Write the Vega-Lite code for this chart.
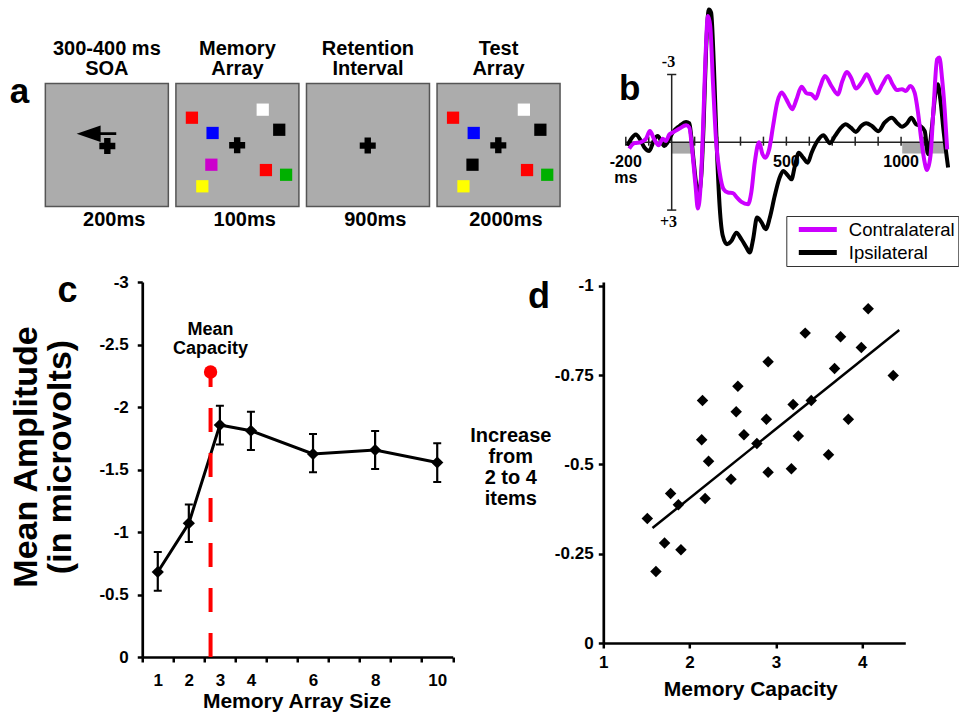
{
  "$schema": "https://vega.github.io/schema/vega-lite/v6.json",
  "background": "white",
  "padding": {"left": 9, "top": 7, "right": 0, "bottom": 0},
  "autosize": {"type": "pad"},
  "columns": 2,
  "align": "each",
  "bounds": "flush",
  "center": {"column": true, "row": false},
  "spacing": {"row": 75, "column": 43.3},
  "resolve": {"scale": {"color": "independent"}, "legend": {"color": "independent"}},
  "config": {
    "view": {"stroke": null},
    "font": "Liberation Sans",
    "axis": {"labelFlush": false, "labelOverlap": false, "grid": false, "domainColor": "#000", "tickColor": "#000", "labelColor": "#000", "titleColor": "#000", "labelFont": "Liberation Sans", "titleFont": "Liberation Sans", "labelFontWeight": "bold", "titleFontWeight": "bold"},
    "title": {"font": "Liberation Sans", "fontWeight": "bold", "color": "#000"},
    "text": {"font": "Liberation Sans", "color": "#000"}
  },
  "datasets": {
    "frames": [
      {"frame": 1, "title": "300-400 ms\nSOA", "duration": "200ms"},
      {"frame": 2, "title": "Memory\nArray", "duration": "100ms"},
      {"frame": 3, "title": "Retention\nInterval", "duration": "900ms"},
      {"frame": 4, "title": "Test\nArray", "duration": "2000ms"}
    ],
    "items": [
      {"frame": 1, "kind": "arrow", "sx": 4.15, "sy": 4.09, "color": "black"},
      {"frame": 1, "kind": "cross", "sx": 5.04, "sy": 5.08, "color": "black"},
      {"frame": 2, "kind": "square", "sx": 1.28, "sy": 2.8, "color": "red"},
      {"frame": 2, "kind": "square", "sx": 7.07, "sy": 2.15, "color": "white"},
      {"frame": 2, "kind": "square", "sx": 2.97, "sy": 4.03, "color": "blue"},
      {"frame": 2, "kind": "square", "sx": 8.42, "sy": 3.77, "color": "black"},
      {"frame": 2, "kind": "square", "sx": 2.87, "sy": 6.59, "color": "magenta"},
      {"frame": 2, "kind": "square", "sx": 7.33, "sy": 7.02, "color": "red"},
      {"frame": 2, "kind": "square", "sx": 8.98, "sy": 7.4, "color": "green"},
      {"frame": 2, "kind": "square", "sx": 2.13, "sy": 8.33, "color": "yellow"},
      {"frame": 2, "kind": "cross", "sx": 4.98, "sy": 5.02, "color": "black"},
      {"frame": 3, "kind": "cross", "sx": 4.98, "sy": 5.05, "color": "black"},
      {"frame": 4, "kind": "square", "sx": 1.28, "sy": 2.8, "color": "red"},
      {"frame": 4, "kind": "square", "sx": 7.07, "sy": 2.15, "color": "white"},
      {"frame": 4, "kind": "square", "sx": 2.97, "sy": 4.03, "color": "blue"},
      {"frame": 4, "kind": "square", "sx": 8.42, "sy": 3.77, "color": "black"},
      {"frame": 4, "kind": "square", "sx": 2.87, "sy": 6.59, "color": "black"},
      {"frame": 4, "kind": "square", "sx": 7.33, "sy": 7.02, "color": "red"},
      {"frame": 4, "kind": "square", "sx": 8.98, "sy": 7.4, "color": "green"},
      {"frame": 4, "kind": "square", "sx": 2.13, "sy": 8.33, "color": "yellow"},
      {"frame": 4, "kind": "cross", "sx": 4.98, "sy": 5.03, "color": "black"}
    ],
    "shade": [{"from": 0, "to": 85}, {"from": 1005, "to": 1190}],
    "ticksB": [{"t": -200}, {"t": -100}, {"t": 100}, {"t": 200}, {"t": 300}, {"t": 400}, {"t": 500}, {"t": 600}, {"t": 700}, {"t": 800}, {"t": 900}, {"t": 1000}, {"t": 1100}],
    "bLabels": [{"t": -200, "label": "-200\nms"}, {"t": 500, "label": "500"}, {"t": 1000, "label": "1000"}],
    "erp": [
      {"side": "Ipsilateral", "t": -193, "uv": 0.16}, {"side": "Ipsilateral", "t": -178, "uv": -0.13}, {"side": "Ipsilateral", "t": -156, "uv": -0.35}, {"side": "Ipsilateral", "t": -138, "uv": -0.13}, {"side": "Ipsilateral", "t": -119, "uv": 0.23}, {"side": "Ipsilateral", "t": -98, "uv": 0.38}, {"side": "Ipsilateral", "t": -76, "uv": -0.13}, {"side": "Ipsilateral", "t": -61, "uv": -0.28}, {"side": "Ipsilateral", "t": -46, "uv": -0.06}, {"side": "Ipsilateral", "t": -32, "uv": 0.16}, {"side": "Ipsilateral", "t": -18, "uv": 0.0}, {"side": "Ipsilateral", "t": 4, "uv": -0.43}, {"side": "Ipsilateral", "t": 34, "uv": -0.72}, {"side": "Ipsilateral", "t": 63, "uv": -0.9}, {"side": "Ipsilateral", "t": 77, "uv": -0.84}, {"side": "Ipsilateral", "t": 85, "uv": -0.28}, {"side": "Ipsilateral", "t": 95, "uv": 0.75}, {"side": "Ipsilateral", "t": 107, "uv": 1.86}, {"side": "Ipsilateral", "t": 117, "uv": 2.3}, {"side": "Ipsilateral", "t": 129, "uv": 1.49}, {"side": "Ipsilateral", "t": 139, "uv": -0.72}, {"side": "Ipsilateral", "t": 150, "uv": -4.12}, {"side": "Ipsilateral", "t": 162, "uv": -5.88}, {"side": "Ipsilateral", "t": 172, "uv": -5.74}, {"side": "Ipsilateral", "t": 184, "uv": -3.38}, {"side": "Ipsilateral", "t": 197, "uv": 0.31}, {"side": "Ipsilateral", "t": 209, "uv": 2.82}, {"side": "Ipsilateral", "t": 223, "uv": 4.15}, {"side": "Ipsilateral", "t": 241, "uv": 4.51}, {"side": "Ipsilateral", "t": 260, "uv": 4.37}, {"side": "Ipsilateral", "t": 282, "uv": 4.0}, {"side": "Ipsilateral", "t": 304, "uv": 4.29}, {"side": "Ipsilateral", "t": 326, "uv": 4.66}, {"side": "Ipsilateral", "t": 340, "uv": 4.88}, {"side": "Ipsilateral", "t": 355, "uv": 4.29}, {"side": "Ipsilateral", "t": 372, "uv": 3.33}, {"side": "Ipsilateral", "t": 391, "uv": 3.53}, {"side": "Ipsilateral", "t": 410, "uv": 3.85}, {"side": "Ipsilateral", "t": 428, "uv": 3.33}, {"side": "Ipsilateral", "t": 449, "uv": 2.38}, {"side": "Ipsilateral", "t": 468, "uv": 1.64}, {"side": "Ipsilateral", "t": 486, "uv": 1.27}, {"side": "Ipsilateral", "t": 508, "uv": 1.49}, {"side": "Ipsilateral", "t": 522, "uv": 1.64}, {"side": "Ipsilateral", "t": 537, "uv": 1.05}, {"side": "Ipsilateral", "t": 554, "uv": 0.46}, {"side": "Ipsilateral", "t": 573, "uv": 0.68}, {"side": "Ipsilateral", "t": 593, "uv": 0.9}, {"side": "Ipsilateral", "t": 610, "uv": 0.46}, {"side": "Ipsilateral", "t": 632, "uv": 0.0}, {"side": "Ipsilateral", "t": 661, "uv": -0.31}, {"side": "Ipsilateral", "t": 690, "uv": 0.04}, {"side": "Ipsilateral", "t": 712, "uv": -0.28}, {"side": "Ipsilateral", "t": 738, "uv": -0.65}, {"side": "Ipsilateral", "t": 759, "uv": -0.8}, {"side": "Ipsilateral", "t": 781, "uv": -0.65}, {"side": "Ipsilateral", "t": 803, "uv": -0.46}, {"side": "Ipsilateral", "t": 826, "uv": -0.72}, {"side": "Ipsilateral", "t": 848, "uv": -0.84}, {"side": "Ipsilateral", "t": 873, "uv": -0.72}, {"side": "Ipsilateral", "t": 901, "uv": -0.49}, {"side": "Ipsilateral", "t": 928, "uv": -0.87}, {"side": "Ipsilateral", "t": 960, "uv": -1.09}, {"side": "Ipsilateral", "t": 982, "uv": -0.87}, {"side": "Ipsilateral", "t": 1004, "uv": -0.69}, {"side": "Ipsilateral", "t": 1026, "uv": -0.84}, {"side": "Ipsilateral", "t": 1045, "uv": -1.09}, {"side": "Ipsilateral", "t": 1065, "uv": -0.8}, {"side": "Ipsilateral", "t": 1084, "uv": -0.72}, {"side": "Ipsilateral", "t": 1103, "uv": -0.5}, {"side": "Ipsilateral", "t": 1118, "uv": 0.53}, {"side": "Ipsilateral", "t": 1135, "uv": -0.72}, {"side": "Ipsilateral", "t": 1150, "uv": -2.2}, {"side": "Ipsilateral", "t": 1160, "uv": -2.57}, {"side": "Ipsilateral", "t": 1171, "uv": -1.9}, {"side": "Ipsilateral", "t": 1186, "uv": -0.43}, {"side": "Ipsilateral", "t": 1205, "uv": 1.12},
      {"side": "Contralateral", "t": -185, "uv": 0.28}, {"side": "Contralateral", "t": -163, "uv": 0.04}, {"side": "Contralateral", "t": -134, "uv": -0.01}, {"side": "Contralateral", "t": -112, "uv": -0.16}, {"side": "Contralateral", "t": -95, "uv": -0.5}, {"side": "Contralateral", "t": -76, "uv": -0.13}, {"side": "Contralateral", "t": -57, "uv": 0.13}, {"side": "Contralateral", "t": -39, "uv": -0.16}, {"side": "Contralateral", "t": -25, "uv": -0.06}, {"side": "Contralateral", "t": -10, "uv": -0.35}, {"side": "Contralateral", "t": 4, "uv": -0.43}, {"side": "Contralateral", "t": 34, "uv": -0.61}, {"side": "Contralateral", "t": 63, "uv": -0.75}, {"side": "Contralateral", "t": 77, "uv": -0.65}, {"side": "Contralateral", "t": 89, "uv": 0.31}, {"side": "Contralateral", "t": 104, "uv": 1.93}, {"side": "Contralateral", "t": 114, "uv": 2.93}, {"side": "Contralateral", "t": 126, "uv": 1.93}, {"side": "Contralateral", "t": 136, "uv": -0.43}, {"side": "Contralateral", "t": 147, "uv": -3.67}, {"side": "Contralateral", "t": 158, "uv": -5.59}, {"side": "Contralateral", "t": 168, "uv": -5.15}, {"side": "Contralateral", "t": 180, "uv": -2.64}, {"side": "Contralateral", "t": 194, "uv": 0.0}, {"side": "Contralateral", "t": 209, "uv": 1.33}, {"side": "Contralateral", "t": 226, "uv": 2.07}, {"side": "Contralateral", "t": 245, "uv": 2.22}, {"side": "Contralateral", "t": 267, "uv": 2.25}, {"side": "Contralateral", "t": 285, "uv": 2.45}, {"side": "Contralateral", "t": 304, "uv": 2.64}, {"side": "Contralateral", "t": 333, "uv": 2.74}, {"side": "Contralateral", "t": 347, "uv": 2.22}, {"side": "Contralateral", "t": 362, "uv": 0.9}, {"side": "Contralateral", "t": 381, "uv": 0.0}, {"side": "Contralateral", "t": 396, "uv": 0.53}, {"side": "Contralateral", "t": 409, "uv": 0.68}, {"side": "Contralateral", "t": 425, "uv": 0.31}, {"side": "Contralateral", "t": 442, "uv": -0.72}, {"side": "Contralateral", "t": 460, "uv": -1.76}, {"side": "Contralateral", "t": 479, "uv": -2.2}, {"side": "Contralateral", "t": 500, "uv": -1.9}, {"side": "Contralateral", "t": 515, "uv": -1.61}, {"side": "Contralateral", "t": 525, "uv": -1.46}, {"side": "Contralateral", "t": 544, "uv": -1.9}, {"side": "Contralateral", "t": 566, "uv": -2.46}, {"side": "Contralateral", "t": 588, "uv": -2.17}, {"side": "Contralateral", "t": 610, "uv": -2.12}, {"side": "Contralateral", "t": 628, "uv": -1.93}, {"side": "Contralateral", "t": 646, "uv": -2.42}, {"side": "Contralateral", "t": 668, "uv": -2.93}, {"side": "Contralateral", "t": 698, "uv": -2.46}, {"side": "Contralateral", "t": 724, "uv": -2.12}, {"side": "Contralateral", "t": 744, "uv": -2.71}, {"side": "Contralateral", "t": 763, "uv": -3.11}, {"side": "Contralateral", "t": 782, "uv": -2.86}, {"side": "Contralateral", "t": 803, "uv": -2.38}, {"side": "Contralateral", "t": 829, "uv": -2.67}, {"side": "Contralateral", "t": 851, "uv": -3.01}, {"side": "Contralateral", "t": 873, "uv": -2.57}, {"side": "Contralateral", "t": 895, "uv": -2.17}, {"side": "Contralateral", "t": 919, "uv": -2.57}, {"side": "Contralateral", "t": 943, "uv": -2.93}, {"side": "Contralateral", "t": 963, "uv": -2.57}, {"side": "Contralateral", "t": 982, "uv": -2.31}, {"side": "Contralateral", "t": 1004, "uv": -2.35}, {"side": "Contralateral", "t": 1021, "uv": -2.27}, {"side": "Contralateral", "t": 1040, "uv": -2.49}, {"side": "Contralateral", "t": 1059, "uv": -2.2}, {"side": "Contralateral", "t": 1074, "uv": -1.31}, {"side": "Contralateral", "t": 1088, "uv": -0.13}, {"side": "Contralateral", "t": 1103, "uv": 0.9}, {"side": "Contralateral", "t": 1113, "uv": 1.23}, {"side": "Contralateral", "t": 1128, "uv": 0.61}, {"side": "Contralateral", "t": 1142, "uv": -1.61}, {"side": "Contralateral", "t": 1157, "uv": -3.67}, {"side": "Contralateral", "t": 1167, "uv": -3.75}, {"side": "Contralateral", "t": 1179, "uv": -2.79}, {"side": "Contralateral", "t": 1190, "uv": -1.46}, {"side": "Contralateral", "t": 1201, "uv": 0.31}
    ],
    "amp": [
      {"size": 1, "amp": -0.68, "lo": -0.53, "hi": -0.84},
      {"size": 2, "amp": -1.07, "lo": -0.92, "hi": -1.22},
      {"size": 3, "amp": -1.856, "lo": -1.70, "hi": -2.01},
      {"size": 4, "amp": -1.81, "lo": -1.656, "hi": -1.962},
      {"size": 6, "amp": -1.624, "lo": -1.478, "hi": -1.784},
      {"size": 8, "amp": -1.656, "lo": -1.504, "hi": -1.808},
      {"size": 10, "amp": -1.556, "lo": -1.40, "hi": -1.71}
    ],
    "scatter": [
      {"cap": 1.51, "inc": -0.349}, {"cap": 1.78, "inc": -0.419}, {"cap": 1.87, "inc": -0.387}, {"cap": 2.18, "inc": -0.405}, {"cap": 2.15, "inc": -0.679}, {"cap": 2.14, "inc": -0.569}, {"cap": 2.22, "inc": -0.509}, {"cap": 2.56, "inc": -0.719}, {"cap": 2.54, "inc": -0.648}, {"cap": 2.63, "inc": -0.583}, {"cap": 2.48, "inc": -0.459}, {"cap": 2.78, "inc": -0.559}, {"cap": 2.91, "inc": -0.788}, {"cap": 2.89, "inc": -0.627}, {"cap": 2.91, "inc": -0.478}, {"cap": 3.18, "inc": -0.488}, {"cap": 3.2, "inc": -0.668}, {"cap": 3.26, "inc": -0.58}, {"cap": 3.34, "inc": -0.868}, {"cap": 3.41, "inc": -0.679}, {"cap": 3.61, "inc": -0.527}, {"cap": 3.68, "inc": -0.769}, {"cap": 3.75, "inc": -0.858}, {"cap": 3.84, "inc": -0.627}, {"cap": 3.99, "inc": -0.828}, {"cap": 4.07, "inc": -0.936}, {"cap": 4.36, "inc": -0.749}, {"cap": 1.71, "inc": -0.28}, {"cap": 1.9, "inc": -0.261}, {"cap": 1.61, "inc": -0.2}
    ],
    "fit": [{"cap": 1.57, "inc": -0.322}, {"cap": 4.43, "inc": -0.877}]
  },
  "concat": [
    {
      "width": 524.4,
      "height": 124,
      "layer": [
        {
          "data": {"name": "frames"},
          "mark": {"type": "point", "shape": "square", "filled": true, "fill": "#acacac", "stroke": "#555555", "strokeWidth": 1.5, "size": 15129, "opacity": 1},
          "encoding": {
            "x": {"field": "frame", "type": "ordinal", "scale": {"type": "band", "paddingInner": 0.0633, "paddingOuter": 0.0398, "align": 1}, "axis": null},
            "xOffset": {"datum": 5, "type": "quantitative", "scale": {"domain": [0, 10], "nice": false, "zero": false}},
            "y": {"datum": 5, "type": "quantitative", "scale": {"domain": [0, 10], "reverse": true, "nice": false, "zero": false},
                  "axis": {"title": "a", "domain": false, "ticks": false, "labels": false, "titleAngle": 0, "titleFontSize": 35, "titleAlign": "center", "titleBaseline": "alphabetic", "titleX": -16.3, "titleY": 19}}
          }
        },
        {
          "data": {"name": "items"},
          "transform": [{"filter": "datum.kind == 'square'"}],
          "mark": {"type": "point", "shape": "square", "filled": true, "size": 150, "opacity": 1, "strokeWidth": 0},
          "encoding": {
            "x": {"field": "frame", "type": "ordinal", "axis": null},
            "xOffset": {"field": "sx", "type": "quantitative"},
            "y": {"field": "sy", "type": "quantitative"},
            "color": {"field": "color", "type": "nominal", "legend": null,
                      "scale": {"domain": ["red", "white", "blue", "black", "magenta", "green", "yellow"], "range": ["#ff0000", "#ffffff", "#0000ff", "#000000", "#cc00cc", "#00b000", "#ffff00"]}}
          }
        },
        {
          "data": {"name": "items"},
          "transform": [{"filter": "datum.kind == 'cross'"}],
          "mark": {"type": "point", "shape": "cross", "filled": true, "size": 256, "color": "#000", "opacity": 1, "strokeWidth": 0},
          "encoding": {
            "x": {"field": "frame", "type": "ordinal", "axis": null},
            "xOffset": {"field": "sx", "type": "quantitative"},
            "y": {"field": "sy", "type": "quantitative"}
          }
        },
        {
          "data": {"name": "items"},
          "transform": [{"filter": "datum.kind == 'arrow'"}],
          "mark": {"type": "point", "shape": "M-1,0L0.21,-0.42L0.21,-0.07L1,-0.07L1,0.07L0.21,0.07L0.21,0.42Z", "filled": true, "size": 1568, "color": "#000", "opacity": 1, "strokeWidth": 0},
          "encoding": {
            "x": {"field": "frame", "type": "ordinal", "axis": null},
            "xOffset": {"field": "sx", "type": "quantitative"},
            "y": {"field": "sy", "type": "quantitative"}
          }
        },
        {
          "data": {"name": "frames"},
          "mark": {"type": "text", "lineBreak": "\n", "fontSize": 20, "fontWeight": "bold", "baseline": "top", "align": "center", "lineHeight": 20},
          "encoding": {
            "x": {"field": "frame", "type": "ordinal", "axis": null},
            "y": {"datum": -3.56, "type": "quantitative"},
            "text": {"field": "title"}
          }
        },
        {
          "data": {"name": "frames"},
          "mark": {"type": "text", "fontSize": 20, "fontWeight": "bold", "baseline": "alphabetic", "align": "center"},
          "encoding": {
            "x": {"field": "frame", "type": "ordinal", "axis": null},
            "xOffset": {"datum": 5.6, "type": "quantitative"},
            "y": {"datum": 11.51, "type": "quantitative"},
            "text": {"field": "duration"}
          }
        }
      ]
    },
    {
      "width": 302,
      "height": 124,
      "layer": [
        {
          "data": {"name": "shade"},
          "mark": {"type": "rect", "fill": "#a8a8a8"},
          "encoding": {
            "x": {"field": "from", "type": "quantitative", "scale": {"domain": [-298.1, 1018.4], "nice": false, "zero": false}, "axis": null},
            "x2": {"field": "to"},
            "y": {"datum": 0, "type": "quantitative", "scale": {"domain": [-2.624, 2.863], "reverse": true, "nice": false, "zero": false},
                  "axis": {"title": "b", "domain": false, "ticks": false, "labels": false, "titleAngle": 0, "titleFontSize": 35, "titleAlign": "center", "titleBaseline": "alphabetic", "titleX": 26, "titleY": 16}},
            "y2": {"datum": 0.5}
          }
        },
        {
          "data": {"values": [{}]},
          "mark": {"type": "rule", "color": "#222", "strokeWidth": 1.5},
          "encoding": {
            "x": {"datum": -200, "type": "quantitative", "axis": null},
            "x2": {"datum": 1195},
            "y": {"datum": 0, "type": "quantitative"}
          }
        },
        {
          "data": {"name": "ticksB"},
          "mark": {"type": "rule", "color": "#222", "strokeWidth": 1.5},
          "encoding": {
            "x": {"field": "t", "type": "quantitative", "axis": null},
            "y": {"datum": -0.25, "type": "quantitative"},
            "y2": {"datum": 0.15}
          }
        },
        {
          "data": {"values": [{}]},
          "mark": {"type": "rule", "color": "#222", "strokeWidth": 1.5},
          "encoding": {
            "x": {"datum": 0, "type": "quantitative", "axis": null},
            "y": {"datum": -3, "type": "quantitative"},
            "y2": {"datum": 3}
          }
        },
        {
          "data": {"values": [{"v": -3}, {"v": 3}]},
          "mark": {"type": "rule", "color": "#222", "strokeWidth": 1.5},
          "encoding": {
            "x": {"datum": -20, "type": "quantitative", "axis": null},
            "x2": {"datum": 20},
            "y": {"field": "v", "type": "quantitative"}
          }
        },
        {
          "data": {"values": [{"label": "-3"}]},
          "mark": {"type": "text", "font": "Liberation Serif", "fontSize": 16, "fontWeight": "bold", "align": "center", "baseline": "alphabetic"},
          "encoding": {
            "x": {"datum": -14, "type": "quantitative", "axis": null},
            "y": {"datum": -3.32, "type": "quantitative"},
            "text": {"field": "label"}
          }
        },
        {
          "data": {"values": [{"label": "+3"}]},
          "mark": {"type": "text", "font": "Liberation Serif", "fontSize": 16, "fontWeight": "bold", "align": "center", "baseline": "alphabetic"},
          "encoding": {
            "x": {"datum": -14, "type": "quantitative", "axis": null},
            "y": {"datum": 3.76, "type": "quantitative"},
            "text": {"field": "label"}
          }
        },
        {
          "data": {"name": "bLabels"},
          "mark": {"type": "text", "lineBreak": "\n", "fontSize": 16, "fontWeight": "bold", "align": "center", "baseline": "top", "lineHeight": 16.7},
          "encoding": {
            "x": {"field": "t", "type": "quantitative", "axis": null},
            "y": {"datum": 0.5, "type": "quantitative"},
            "text": {"field": "label"}
          }
        },
        {
          "data": {"name": "erp"},
          "transform": [{"filter": "datum.side == 'Ipsilateral'"}],
          "mark": {"type": "line", "strokeWidth": 4, "interpolate": "monotone", "strokeJoin": "round"},
          "encoding": {
            "x": {"field": "t", "type": "quantitative", "axis": null},
            "y": {"field": "uv", "type": "quantitative"},
            "color": {"field": "side", "type": "nominal",
                      "scale": {"domain": ["Contralateral", "Ipsilateral"], "range": ["#cc00ff", "#000000"]},
                      "legend": {"orient": "none", "legendX": 183, "legendY": 133, "title": null, "direction": "vertical", "symbolType": "stroke", "symbolStrokeWidth": 5, "symbolSize": 1444, "clipHeight": 20, "labelFontSize": 18.5, "labelFont": "Liberation Sans", "labelFontWeight": "normal", "labelColor": "#000", "strokeColor": "#333", "padding": 3.5, "rowPadding": 3, "symbolOffset": 6.5, "labelOffset": 9.5, "fillColor": "#ffffff", "symbolOpacity": 1}}
          }
        },
        {
          "data": {"name": "erp"},
          "transform": [{"filter": "datum.side == 'Contralateral'"}],
          "mark": {"type": "line", "strokeWidth": 4, "interpolate": "monotone", "strokeJoin": "round"},
          "encoding": {
            "x": {"field": "t", "type": "quantitative", "axis": null},
            "y": {"field": "uv", "type": "quantitative"},
            "color": {"field": "side", "type": "nominal"}
          }
        }
      ]
    },
    {
      "width": 310.5,
      "height": 375,
      "title": {"text": "c", "anchor": "start", "frame": "group", "orient": "top", "fontSize": 36, "baseline": "alphabetic", "offset": 0, "dx": -84.7, "dy": 64.5},
      "data": {"name": "amp"},
      "resolve": {"axis": {"x": "independent"}},
      "layer": [
        {
          "mark": {"type": "line", "color": "#000", "strokeWidth": 3},
          "encoding": {
            "x": {"field": "size", "type": "quantitative", "scale": {"domain": [0.5, 10.5], "nice": false, "zero": false},
                  "axis": {"orient": "bottom", "title": "Memory Array Size", "values": [0.5, 1.5, 2.5, 3.5, 4.5, 5.5, 6.5, 7.5, 8.5, 9.5, 10.5],
                           "labels": false, "domainWidth": 2.7, "tickWidth": 2.5, "tickSize": 5,
                           "titleFontSize": 21, "titleAlign": "center", "titleBaseline": "alphabetic", "titleX": 154.3, "titleY": 50.5}},
            "y": {"field": "amp", "type": "quantitative", "scale": {"domain": [-3, 0], "reverse": true, "nice": false, "zero": false},
                  "axis": {"title": ["Mean Amplitude", "(in microvolts)"], "values": [-3, -2.5, -2, -1.5, -1, -0.5, 0],
                           "labelExpr": "datum.value == 0 ? '0' : '-' + (-datum.value)",
                           "domainWidth": 2.7, "tickWidth": 2.5, "tickSize": 5, "labelFontSize": 17, "labelPadding": 9,
                           "titleFontSize": 34, "titleLineHeight": 34, "titleAngle": -90, "titleAlign": "center", "titleBaseline": "top", "titleX": -132.6, "titleY": 174.5}}
          }
        },
        {
          "mark": {"type": "rule", "color": "#000", "strokeWidth": 2.2},
          "encoding": {
            "x": {"field": "size", "type": "quantitative", "axis": null},
            "y": {"field": "lo", "type": "quantitative"},
            "y2": {"field": "hi"}
          }
        },
        {
          "mark": {"type": "tick", "orient": "horizontal", "color": "#000", "size": 8, "thickness": 2, "opacity": 1},
          "encoding": {
            "x": {"field": "size", "type": "quantitative", "axis": null},
            "y": {"field": "lo", "type": "quantitative"}
          }
        },
        {
          "mark": {"type": "tick", "orient": "horizontal", "color": "#000", "size": 8, "thickness": 2, "opacity": 1},
          "encoding": {
            "x": {"field": "size", "type": "quantitative", "axis": null},
            "y": {"field": "hi", "type": "quantitative"}
          }
        },
        {
          "mark": {"type": "point", "shape": "diamond", "filled": true, "size": 150, "color": "#000", "opacity": 1},
          "encoding": {
            "x": {"field": "size", "type": "quantitative",
                  "axis": {"orient": "bottom", "title": null, "values": [1, 2, 3, 4, 6, 8, 10], "domain": false, "ticks": false, "tickSize": 0,
                           "labelExpr": "'' + datum.value", "labelFontSize": 17, "labelPadding": 15.7}},
            "y": {"field": "amp", "type": "quantitative"}
          }
        },
        {
          "data": {"values": [{"capacity": 2.7}]},
          "mark": {"type": "rule", "color": "#ff0000", "strokeWidth": 4, "strokeDash": [24, 21]},
          "encoding": {
            "x": {"field": "capacity", "type": "quantitative", "axis": null},
            "y": {"datum": 0, "type": "quantitative"},
            "y2": {"datum": -2.28}
          }
        },
        {
          "data": {"values": [{"capacity": 2.7}]},
          "mark": {"type": "point", "shape": "circle", "filled": true, "size": 180, "color": "#ff0000", "opacity": 1},
          "encoding": {
            "x": {"field": "capacity", "type": "quantitative", "axis": null},
            "y": {"datum": -2.28, "type": "quantitative"}
          }
        },
        {
          "data": {"values": [{"capacity": 2.7, "label": "Mean\nCapacity"}]},
          "mark": {"type": "text", "lineBreak": "\n", "fontSize": 18, "fontWeight": "bold", "align": "center", "baseline": "top", "lineHeight": 19.5},
          "encoding": {
            "x": {"field": "capacity", "type": "quantitative", "axis": null},
            "y": {"datum": -2.69, "type": "quantitative"},
            "text": {"field": "label"}
          }
        }
      ]
    },
    {
      "width": 302,
      "height": 361,
      "title": {"text": "d", "anchor": "start", "frame": "group", "orient": "top", "fontSize": 36, "baseline": "alphabetic", "offset": 0, "dx": -75.3, "dy": 67.5},
      "layer": [
        {
          "data": {"name": "fit"},
          "mark": {"type": "line", "color": "#000", "strokeWidth": 2.5},
          "encoding": {
            "x": {"field": "cap", "type": "quantitative", "scale": {"domain": [1, 4.5], "nice": false, "zero": false},
                  "axis": {"title": "Memory Capacity", "values": [1, 2, 3, 4], "labelExpr": "'' + datum.value", "domainWidth": 2.7, "tickWidth": 2.5, "tickSize": 5,
                           "labelFontSize": 17, "labelPadding": 6.4, "titleFontSize": 21, "titleAlign": "center", "titleBaseline": "alphabetic", "titleX": 147, "titleY": 52}},
            "y": {"field": "inc", "type": "quantitative", "scale": {"domain": [-1.0112, 0], "reverse": true, "nice": false, "zero": false},
                  "axis": {"title": ["Increase", "from", "2 to 4", "items"], "values": [-1, -0.75, -0.5, -0.25, 0],
                           "labelExpr": "datum.value == 0 ? '0' : '-' + (-datum.value)",
                           "domainWidth": 2.7, "tickWidth": 2.5, "tickSize": 5, "labelFontSize": 17, "labelPadding": 5.2,
                           "titleFontSize": 20, "titleLineHeight": 21, "titleAngle": 0, "titleAlign": "center", "titleBaseline": "top", "titleX": -93, "titleY": 143.8}}
          }
        },
        {
          "data": {"name": "scatter"},
          "mark": {"type": "point", "shape": "diamond", "filled": true, "size": 132, "color": "#000", "opacity": 1},
          "encoding": {
            "x": {"field": "cap", "type": "quantitative"},
            "y": {"field": "inc", "type": "quantitative"}
          }
        }
      ]
    }
  ]
}
